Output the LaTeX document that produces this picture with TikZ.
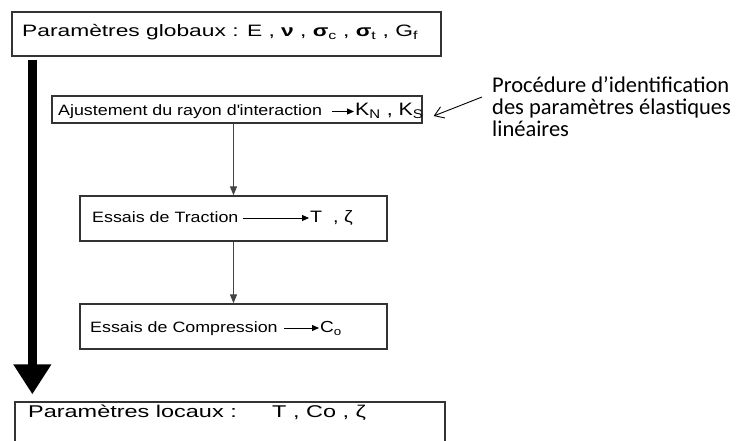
\documentclass[tikz,border=0pt]{standalone}
\usepackage{fontspec}
\setmainfont{Liberation Sans}
\newfontfamily\arwA[FakeStretch=1.38]{Liberation Sans}
\newfontfamily\arwB[FakeStretch=1.19]{Liberation Sans}
\newfontfamily\calfont{Carlito}
\usetikzlibrary{arrows.meta,calc}
\definecolor{boxgray}{HTML}{333333}
\definecolor{linegray}{HTML}{444444}
\begin{document}
\begin{tikzpicture}[x=1pt,y=-1pt,
  box/.style={draw=boxgray, line width=1.3pt, inner sep=0pt},
  txt/.style={inner sep=0pt, anchor=base west, text=black},
  conn/.style={draw=linegray, line width=1pt, -{Triangle[length=9pt,width=7pt]}},
  inarrow/.style={draw=black, line width=0.9pt, -{Triangle[length=7pt,width=6pt]}},
  notearrow/.style={draw=black, line width=0.9pt, -{Straight Barb[length=9pt,width=12pt]}}]
\useasboundingbox (0,0) rectangle (740,441);
% boxes
\node[box, minimum width=429pt, minimum height=44pt] (top) at (226.5,34) {};
\node[box, minimum width=370pt, minimum height=27pt] (adj) at (237,109.5) {};
\node[box, minimum width=307pt, minimum height=45pt] (trac) at (233.5,218.5) {};
\node[box, minimum width=307pt, minimum height=45pt] (comp) at (233.5,326.5) {};
\node[box, minimum width=430pt, minimum height=60pt] (loc) at (230,432) {};
% texts
\node[txt, font=\arwA\fontsize{16.5}{18}\selectfont] (ttop) at (22,37)
  {Paramètres globaux : E , {\bfseries ν} , {\bfseries σ}\textsubscript{c} , {\bfseries σ}\textsubscript{t} , G\textsubscript{f}};
\node[txt, font=\arwB\fontsize{15}{17}\selectfont] (tadj) at (58,116) {Ajustement du rayon d\textquotesingle interaction};
\node[txt, font=\arwB\fontsize{18}{20}\selectfont] (kadj) at (355,116) {K\textsubscript{N} , K\textsubscript{S}};
\node[txt, font=\arwB\fontsize{15}{17}\selectfont] (ttrac) at (92,223) {Essais de Traction};
\node[txt, font=\arwB\fontsize{16.5}{18}\selectfont] (rtrac) at (310,223) {T~~, ζ};
\node[txt, font=\arwB\fontsize{15}{17}\selectfont] (tcomp) at (90,333) {Essais de Compression};
\node[txt, font=\arwB\fontsize{16}{18}\selectfont] (rcomp) at (320,333) {C\textsubscript{o}};
\node[txt, font=\arwA\fontsize{17}{19}\selectfont] (tloc) at (28,417) {Paramètres locaux :};
\node[txt, font=\arwA\fontsize{17}{19}\selectfont] (rloc) at (272,417) {T , Co , ζ};
\node[inner sep=0pt, anchor=north west, align=left, font=\calfont\fontsize{22.5}{22}\selectfont] (note) at (492,76)
  {Procédure d’identification\\des paramètres élastiques\\linéaires};
% inline arrows
\draw[inarrow] ([xshift=10pt,yshift=4.5pt]tadj.base east) -- ([xshift=-1pt,yshift=4.5pt]kadj.base west);
\draw[inarrow] ([xshift=4pt,yshift=5pt]ttrac.base east) -- ([xshift=-1pt,yshift=5pt]rtrac.base west);
\draw[inarrow] ([xshift=6pt,yshift=5pt]tcomp.base east) -- ([xshift=-1pt,yshift=5pt]rcomp.base west);
% connectors
\draw[conn] (adj.south -| trac.north) -- (trac.north);
\draw[conn] (trac.south) -- (comp.north);
\draw[line width=9pt, -{Triangle[width=36pt,length=30pt]}, shorten <=3pt, shorten >=7pt]
  ([xshift=21pt]top.south west) -- ([xshift=18pt]loc.north west);
% note arrow
\draw[notearrow] ($(note.north west)+(-10,21)$) -- ($(adj.east)+(11,6.5)$);
\end{tikzpicture}
\end{document}
